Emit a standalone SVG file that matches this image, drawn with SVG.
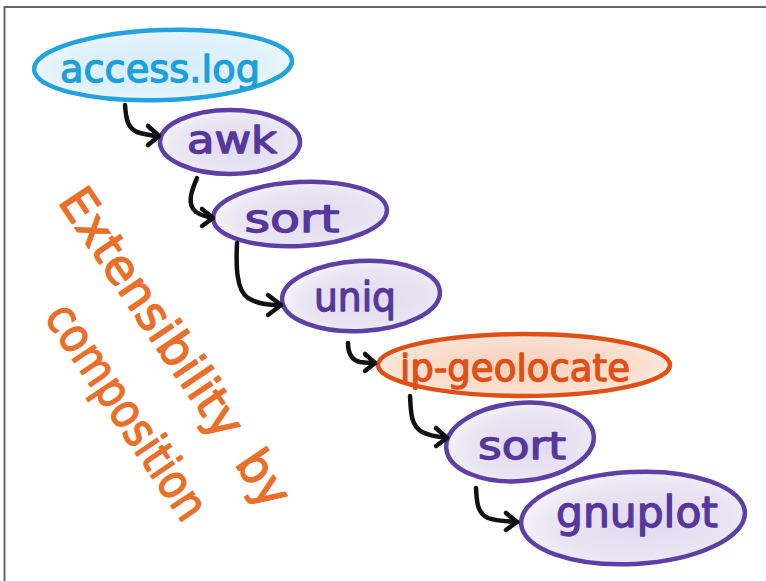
<svg xmlns="http://www.w3.org/2000/svg" width="766" height="581" viewBox="0 0 766 581">
<style>
.lbl{font-family:"DejaVu Sans","Liberation Sans",sans-serif;font-size:38px;text-anchor:middle;stroke-width:1.3px;stroke-linejoin:round}
.purp .shape{fill:url(#gPurple);stroke:#5e3fa3;stroke-width:4.5}
.purp .lbl{fill:#56389a;stroke:#56389a}
.blue .shape{fill:url(#gBlue);stroke:#22a3de;stroke-width:4.5}
.blue .lbl{fill:#1f9fd9;stroke:#1f9fd9}
.orng .shape{fill:url(#gOrange);stroke:#df4f16;stroke-width:4.5}
.orng .lbl{fill:#df4f16;stroke:#df4f16}
.conn path{fill:none;stroke:#111;stroke-width:4.5;stroke-linecap:round;stroke-linejoin:round}
.title{font-family:"DejaVu Sans","Liberation Sans",sans-serif;font-size:48px;fill:#e8702a;stroke:#e8702a;stroke-width:1.4px;stroke-linejoin:round}
</style>
<defs>
<radialGradient id="gPurple" cx="0.55" cy="0.55" r="0.6">
<stop offset="0" stop-color="#e0d9ee"/>
<stop offset="0.7" stop-color="#ebe6f3"/>
<stop offset="1" stop-color="#f8f6fb"/>
</radialGradient>
<radialGradient id="gBlue" cx="0.5" cy="0.5" r="0.6">
<stop offset="0" stop-color="#d3ecf8"/>
<stop offset="0.7" stop-color="#e2f3fa"/>
<stop offset="1" stop-color="#f5fbfe"/>
</radialGradient>
<radialGradient id="gOrange" cx="0.5" cy="0.5" r="0.6">
<stop offset="0" stop-color="#f7d0ba"/>
<stop offset="0.7" stop-color="#fae0d1"/>
<stop offset="1" stop-color="#fdf3ed"/>
</radialGradient>
</defs>
<rect width="766" height="581" fill="#fff"/>
<path d="M4.5 581 V7 H766" fill="none" stroke="#666" stroke-width="2"/>

<g id="n-access" class="blue">
<ellipse class="shape" cx="163" cy="65" rx="129" ry="35" transform="rotate(-2 163 65)"/>
<text class="lbl" x="160" y="82" textLength="200" lengthAdjust="spacingAndGlyphs">access.log</text>
</g>
<g id="n-awk" class="purp">
<ellipse class="shape" cx="230" cy="142" rx="70" ry="32"/>
<text class="lbl" x="232" y="153" textLength="90" lengthAdjust="spacingAndGlyphs">awk</text>
</g>
<g id="n-sort1" class="purp">
<ellipse class="shape" cx="300" cy="214" rx="87" ry="32" transform="rotate(-3 300 214)"/>
<text class="lbl" x="292" y="232" textLength="95" lengthAdjust="spacingAndGlyphs">sort</text>
</g>
<g id="n-uniq" class="purp">
<ellipse class="shape" cx="361" cy="296" rx="79" ry="35" transform="rotate(-3 361 296)"/>
<text class="lbl" x="355" y="311" style="font-size:40px" textLength="82" lengthAdjust="spacingAndGlyphs">uniq</text>
</g>
<g id="n-geo" class="orng">
<ellipse class="shape" cx="524" cy="365" rx="146" ry="31"/>
<text class="lbl" x="515" y="381" textLength="230" lengthAdjust="spacingAndGlyphs">ip-geolocate</text>
</g>
<g id="n-sort2" class="purp">
<ellipse class="shape" cx="520" cy="442" rx="74" ry="39" transform="rotate(-5 520 442)"/>
<text class="lbl" x="522" y="459" textLength="88" lengthAdjust="spacingAndGlyphs">sort</text>
</g>
<g id="n-gnuplot" class="purp">
<ellipse class="shape" cx="633" cy="518" rx="112" ry="46" transform="rotate(-3 633 518)"/>
<text class="lbl" x="637" y="527" style="font-size:42px" textLength="162" lengthAdjust="spacingAndGlyphs">gnuplot</text>
</g>

<g id="connectors" class="conn">
<path d="M125 105 C126 120 128 130 140 133 C148 135 153 136 159 136"/>
<path d="M148 126 L159 136 L148 145"/>
<path d="M197 178 C192 190 186 204 196 212 C202 216 207 217 213 218"/>
<path d="M202 209 L213 218 L202 226"/>
<path d="M237 243 C236 265 236 290 248 298 C258 304 268 305 281 305"/>
<path d="M268 295 L281 305 L268 315"/>
<path d="M348 343 C348 352 351 360 360 362 C366 363 370 363 375 363"/>
<path d="M365 354 L375 363 L365 371"/>
<path d="M410 396 C411 410 410 425 422 432 C430 436 438 437 447 438"/>
<path d="M436 428 L447 438 L436 446"/>
<path d="M476 488 C477 500 476 512 488 518 C496 521 505 521 517 522"/>
<path d="M506 513 L517 522 L506 530"/>
</g>

<g id="caption" transform="translate(150,314) rotate(56)">
<text class="title" x="0" y="14" text-anchor="middle" textLength="290" lengthAdjust="spacingAndGlyphs">Extensibility</text>
<text class="title" x="200" y="14" text-anchor="middle" textLength="58" lengthAdjust="spacingAndGlyphs">by</text>
<text class="title" x="68" y="90" text-anchor="middle" textLength="250" lengthAdjust="spacingAndGlyphs">composition</text>
</g>
</svg>
